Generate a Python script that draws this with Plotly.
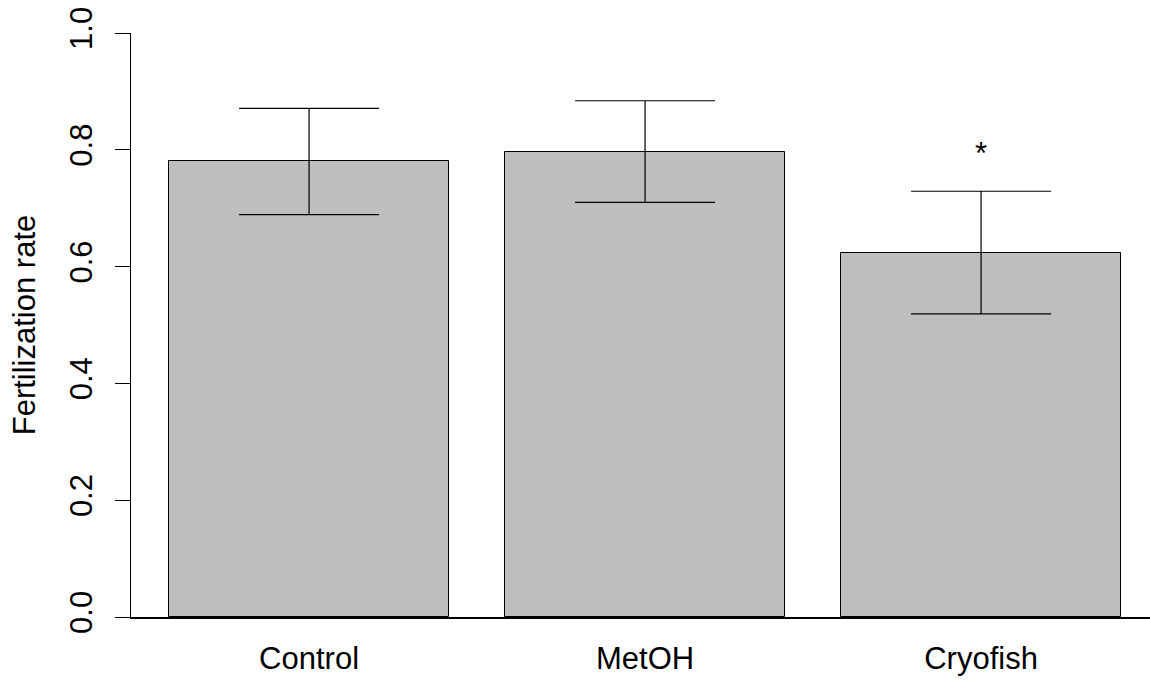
import plotly.graph_objects as go

# Data
categories = ["Control", "MetOH", "Cryofish"]
rates = [0.780, 0.797, 0.624]
errors = [0.091, 0.087, 0.105]
signif = ["", "", "*"]
bar_pos = [0.7, 1.9, 3.1]          # R barplot midpoints (width 1, space 0.2)
y_ticks = [0.0, 0.2, 0.4, 0.6, 0.8, 1.0]
y_ticktext = ["0.0", "0.2", "0.4", "0.6", "0.8", "1.0"]

FONT = "Liberation Sans, Arial, Helvetica, sans-serif"

fig = go.Figure()
fig.add_trace(go.Bar(
    x=bar_pos, y=rates, width=1.0,
    marker=dict(color="#BEBEBE", line=dict(color="black", width=1)),
    error_y=dict(type="data", array=errors, visible=True,
                 color="black", thickness=1.2, width=70),
    showlegend=False, hoverinfo="skip",
))

for xp, r, e, s in zip(bar_pos, rates, errors, signif):
    if s:
        fig.add_annotation(x=xp, y=r + e + 0.065, text=s, showarrow=False,
                           font=dict(family=FONT, size=31, color="black"),
                           xanchor="center", yanchor="middle")

fig.update_layout(
    width=1150, height=682,
    margin=dict(l=131, r=0, t=33, b=65),
    paper_bgcolor="white", plot_bgcolor="white",
    font=dict(family=FONT, size=31, color="black"),
    bargap=0,
)
fig.update_xaxes(
    range=[0.064, 0.064 + 1019 / 280],
    tickvals=bar_pos, ticktext=categories,
    showline=True, linecolor="black", linewidth=2,
    ticks="", showgrid=False, zeroline=False,
    ticklabelstandoff=13,
    tickfont=dict(family=FONT, size=31, color="black"),
)
fig.update_yaxes(
    range=[0, 1],
    tickvals=y_ticks, ticktext=y_ticktext,
    tickangle=-90,
    showline=True, linecolor="black", linewidth=1,
    ticks="outside", ticklen=15, tickwidth=1, tickcolor="black",
    showgrid=False, zeroline=False,
    ticklabelstandoff=11,
    tickfont=dict(family=FONT, size=31, color="black"),
    title=dict(text="Fertilization rate", standoff=18,
               font=dict(family=FONT, size=31, color="black")),
)

fig.write_html(
    "out.html",
    config={"displayModeBar": False},
    post_script="document.body.style.margin='0';document.body.style.overflow='hidden';",
)
